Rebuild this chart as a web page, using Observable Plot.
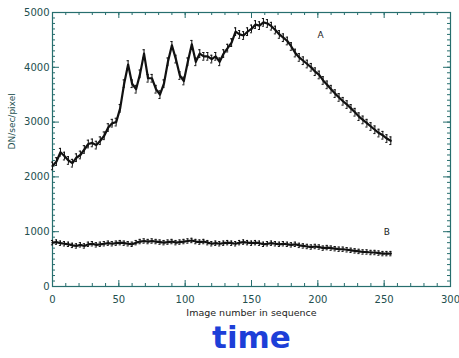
<!DOCTYPE html>
<html>
<head>
<meta charset="utf-8">
<script src="https://cdn.jsdelivr.net/npm/d3@7"></script>
<script src="https://cdn.jsdelivr.net/npm/@observablehq/plot@0.6"></script>
<style>
  html, body { margin: 0; padding: 0; background: #ffffff; }
  #chart { width: 459px; height: 358px; }
</style>
</head>
<body>
<div id="chart"></div>
<script>
// Image numbers (sampled every 3 images)
const imageNumber = [0,3,6,9,12,15,18,21,24,27,30,33,36,39,42,45,48,51,54,57,60,63,66,69,72,75,78,81,84,87,90,93,96,99,102,105,108,111,114,117,120,123,126,129,132,135,138,141,144,147,150,153,156,159,162,165,168,171,174,177,180,183,186,189,192,195,198,201,204,207,210,213,216,219,222,225,228,231,234,237,240,243,246,249,252,255];

// Series A (DN/sec/pixel)
const seriesA = [2200,2280,2450,2380,2300,2250,2350,2400,2500,2600,2620,2580,2660,2750,2900,2980,3000,3250,3700,4050,3700,3600,3880,4250,3800,3800,3600,3500,3700,4100,4400,4150,3850,3750,4100,4420,4100,4250,4200,4200,4150,4200,4100,4250,4350,4450,4650,4600,4580,4650,4700,4780,4760,4820,4800,4750,4680,4600,4540,4480,4380,4260,4180,4120,4060,4000,3920,3860,3760,3680,3600,3520,3450,3380,3320,3250,3180,3100,3040,2980,2920,2860,2800,2760,2700,2660];

// Series B (DN/sec/pixel)
const seriesB = [800,810,790,780,770,750,740,760,740,770,780,760,770,780,790,780,790,800,790,780,770,800,820,830,820,830,820,810,800,810,820,800,810,820,830,840,820,810,820,800,780,790,780,790,800,790,780,800,810,800,790,800,790,770,780,790,780,770,780,770,760,770,750,740,730,720,730,720,700,710,700,690,680,680,670,660,650,640,630,630,620,620,610,600,600,600];

const errorA = 70;
const errorB = 40;

const xMajorTicks = [0,50,100,150,200,250,300];
const xMinorTicks = [0,10,20,30,40,50,60,70,80,90,100,110,120,130,140,150,160,170,180,190,200,210,220,230,240,250,260,270,280,290,300];
const yMajorTicks = [0,1000,2000,3000,4000,5000];
const yMinorTicks = [0,100,200,300,400,500,600,700,800,900,1000,1100,1200,1300,1400,1500,1600,1700,1800,1900,2000,2100,2200,2300,2400,2500,2600,2700,2800,2900,3000,3100,3200,3300,3400,3500,3600,3700,3800,3900,4000,4100,4200,4300,4400,4500,4600,4700,4800,4900,5000];

const seriesLabels = ["A","B"];
const seriesLabelX = [202,252];
const seriesLabelY = [4580,1000];

const xLabel = "Image number in sequence";
const yLabel = "DN/sec/pixel";
const note = "time";

const dataA = imageNumber.map((x,i) => ({x, y: seriesA[i], e: errorA}));
const dataB = imageNumber.map((x,i) => ({x, y: seriesB[i], e: errorB}));
const labels = seriesLabels.map((t,i) => ({t, x: seriesLabelX[i], y: seriesLabelY[i]}));

const W = 459, H = 358;
const mT = 12, mR = 9, mB = 72, mL = 52;
const pW = W - mL - mR, pH = H - mT - mB;
const axisColor = "#276e6e";
const fmt = d => String(d);

function seriesMarks(data) {
  return [
    Plot.ruleX(data, {x: "x", y1: d => d.y - d.e, y2: d => d.y + d.e, stroke: "#111", strokeWidth: 1}),
    Plot.ruleY(data, {y: d => d.y + d.e, x1: d => d.x - 0.8, x2: d => d.x + 0.8, stroke: "#111", strokeWidth: 1}),
    Plot.ruleY(data, {y: d => d.y - d.e, x1: d => d.x - 0.8, x2: d => d.x + 0.8, stroke: "#111", strokeWidth: 1}),
    Plot.line(data, {x: "x", y: "y", stroke: "#111", strokeWidth: 2.2})
  ];
}

const chart = Plot.plot({
  width: W, height: H,
  marginTop: mT, marginRight: mR, marginBottom: mB, marginLeft: mL,
  style: {fontFamily: "DejaVu Sans", background: "#ffffff", color: axisColor},
  x: {domain: [0,300], axis: null},
  y: {domain: [0,5000], axis: null},
  marks: [
    Plot.frame({stroke: axisColor, strokeWidth: 1.2}),
    // minor ticks (inside, all four sides)
    Plot.tickX(xMinorTicks, {x: d => d, insetTop: pH - 3, stroke: axisColor}),
    Plot.tickX(xMinorTicks, {x: d => d, insetBottom: pH - 3, stroke: axisColor}),
    Plot.tickY(yMinorTicks, {y: d => d, insetRight: pW - 3, stroke: axisColor}),
    Plot.tickY(yMinorTicks, {y: d => d, insetLeft: pW - 3, stroke: axisColor}),
    // major ticks
    Plot.tickX(xMajorTicks, {x: d => d, insetTop: pH - 6, stroke: axisColor}),
    Plot.tickX(xMajorTicks, {x: d => d, insetBottom: pH - 6, stroke: axisColor}),
    Plot.tickY(yMajorTicks, {y: d => d, insetRight: pW - 7, stroke: axisColor}),
    Plot.tickY(yMajorTicks, {y: d => d, insetLeft: pW - 7, stroke: axisColor}),
    Plot.axisX({ticks: xMajorTicks, tickSize: 0, tickPadding: 9, tickFormat: fmt, fontSize: 10, label: null, fill: "#234f4f"}),
    Plot.axisY({ticks: yMajorTicks, tickSize: 0, tickPadding: 3, tickFormat: fmt, fontSize: 10, label: null, fill: "#234f4f"}),
    Plot.text([xLabel], {text: d => d, frameAnchor: "bottom", lineAnchor: "middle", dy: 26, fontSize: 9.5, fill: "#222"}),
    Plot.text([yLabel], {text: d => d, frameAnchor: "left", lineAnchor: "middle", dx: -40, rotate: -90, fontSize: 9, fill: "#234f4f"}),
    ...seriesMarks(dataA),
    ...seriesMarks(dataB),
    Plot.text(labels, {x: "x", y: "y", text: "t", fontSize: 9, fill: "#222"}),
    Plot.text([note], {text: d => d, frameAnchor: "bottom", lineAnchor: "middle", dy: 52, fontSize: 31, fontWeight: "bold", fill: "#1d3fd8"})
  ]
});
document.getElementById("chart").appendChild(chart);
</script>
</body>
</html>
